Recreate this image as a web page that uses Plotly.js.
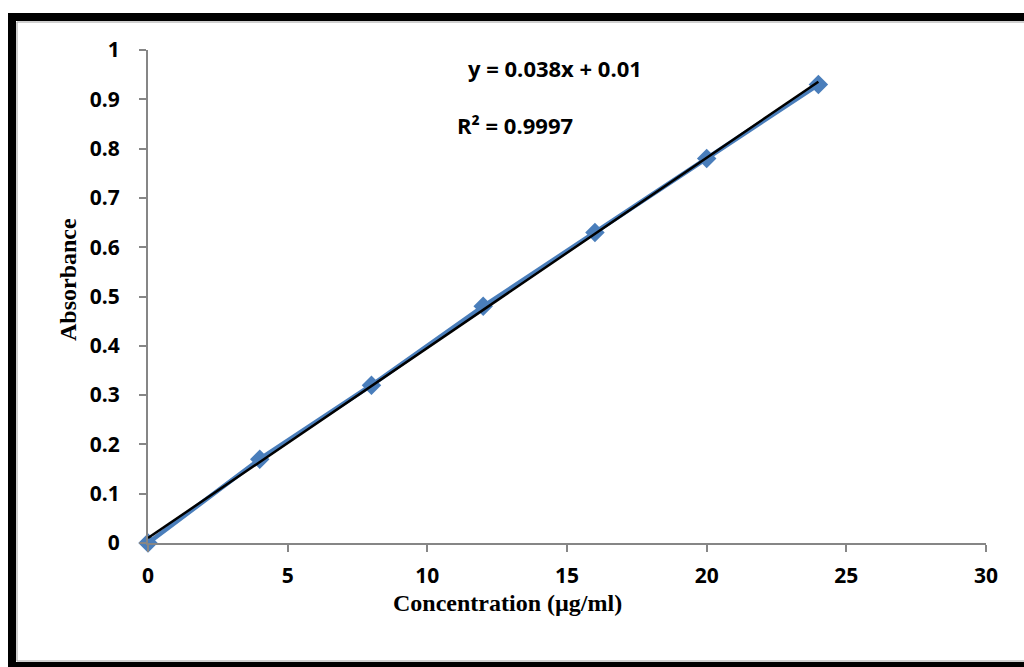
<!DOCTYPE html>
<html>
<head>
<meta charset="utf-8">
<script src="https://cdn.plot.ly/plotly-3.0.1.min.js"></script>
<style>
html,body{margin:0;padding:0;background:#fff;}
#chart{width:1024px;height:667px;}
</style>
</head>
<body>
<div id="chart"></div>
<script>
// Data
const concentration = [0, 4, 8, 12, 16, 20, 24];
const absorbance = [0, 0.17, 0.32, 0.48, 0.63, 0.78, 0.93];
const equationText = "y = 0.038x + 0.01";
const r2Text = "R² = 0.9997";
const xTitle = "Concentration (µg/ml)";
const yTitle = "Absorbance";

// least-squares linear trendline from the data
const n = concentration.length;
const mx = concentration.reduce((a, b) => a + b, 0) / n;
const my = absorbance.reduce((a, b) => a + b, 0) / n;
let sxy = 0, sxx = 0;
for (let i = 0; i < n; i++) {
  sxy += (concentration[i] - mx) * (absorbance[i] - my);
  sxx += (concentration[i] - mx) * (concentration[i] - mx);
}
const slope = sxy / sxx;
const intercept = my - slope * mx;
const trendX = [concentration[0], concentration[n - 1]];
const trendY = trendX.map(x => slope * x + intercept);

// layout geometry (pixels)
const W = 1024, H = 667;
const L = 148, R = 986, T = 50, B = 543;
const px = x => (x - L) / (R - L);
const py = y => (B - y) / (B - T);

const shapes = [
  {type:'rect', xref:'paper', yref:'paper', x0:px(8), x1:px(16), y0:py(667), y1:py(13), fillcolor:'#000', line:{width:0}},
  {type:'rect', xref:'paper', yref:'paper', x0:px(8), x1:px(1024), y0:py(21), y1:py(13), fillcolor:'#000', line:{width:0}},
  {type:'rect', xref:'paper', yref:'paper', x0:px(8), x1:px(1024), y0:py(667), y1:py(662), fillcolor:'#000', line:{width:0}},
  {type:'line', xref:'paper', yref:'paper', x0:px(17), x1:px(17), y0:py(661), y1:py(22), line:{color:'#a0a0a0', width:1}},
  {type:'line', xref:'paper', yref:'paper', x0:px(17), x1:px(1024), y0:py(22), y1:py(22), line:{color:'#a0a0a0', width:1}},
  {type:'line', xref:'paper', yref:'paper', x0:px(17), x1:px(1024), y0:py(661), y1:py(661), line:{color:'#a0a0a0', width:1}}
];

const data = [
  {
    x: concentration, y: absorbance, type:'scatter', mode:'lines+markers',
    line:{color:'#4a7ebb', width:4.5},
    marker:{symbol:'diamond', size:15, color:'#4a7ebb'},
    cliponaxis:false, hoverinfo:'none'
  },
  {
    x: trendX, y: trendY, type:'scatter', mode:'lines',
    line:{color:'#000', width:2.5},
    cliponaxis:false, hoverinfo:'none'
  }
];

const sans = '"Open Sans", "Liberation Sans", Arial, sans-serif';
const serif = '"Liberation Serif", "Times New Roman", serif';
const tickFont = {family:sans, size:21, color:'#000', weight:'bold'};
const titleFont = {family:serif, size:24, color:'#000', weight:'bold'};
const annFont = {family:sans, size:22, color:'#000', weight:'bold'};

const ann = (x, y, text, font, extra) => Object.assign({
  xref:'paper', yref:'paper', x:px(x), y:py(y), text:text, showarrow:false,
  xanchor:'center', yanchor:'middle', font:font, borderpad:0
}, extra || {});

const layout = {
  width: W, height: H,
  margin:{l:L, r:W-R, t:T, b:H-B},
  paper_bgcolor:'#fff', plot_bgcolor:'#fff',
  showlegend:false,
  xaxis:{
    range:[0,30], tick0:0, dtick:5, showgrid:false, zeroline:false,
    showline:true, linecolor:'#868686', linewidth:2,
    ticks:'outside', ticklen:7, tickwidth:2, tickcolor:'#868686',
    tickfont:tickFont, ticklabelstandoff:6
  },
  yaxis:{
    range:[0,1], tick0:0, dtick:0.1, showgrid:false, zeroline:false,
    showline:true, linecolor:'#868686', linewidth:2,
    ticks:'outside', ticklen:7, tickwidth:2, tickcolor:'#868686',
    tickfont:tickFont, ticklabelstandoff:15
  },
  annotations:[
    ann(555, 68, equationText, annFont),
    ann(515, 125, r2Text, annFont),
    ann(507, 603, xTitle, titleFont),
    ann(68, 280, yTitle, titleFont, {textangle:-90})
  ],
  shapes: shapes
};

Plotly.newPlot('chart', data, layout, {displayModeBar:false, staticPlot:true});
</script>
</body>
</html>
